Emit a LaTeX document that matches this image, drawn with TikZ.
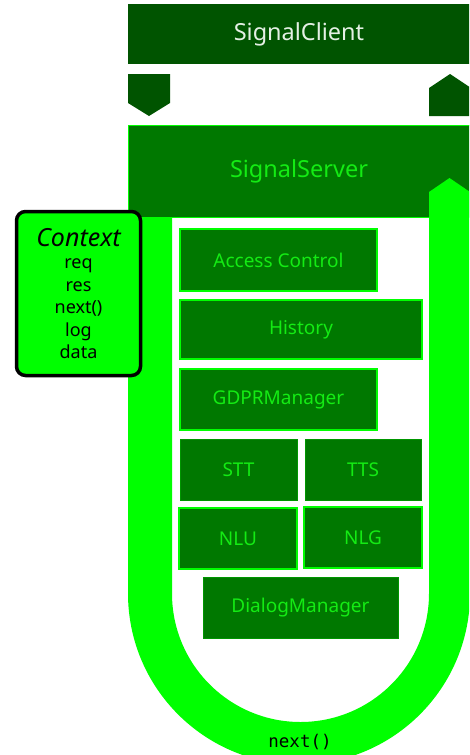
\documentclass[tikz,border=0pt]{standalone}
\usepackage{fontspec}
\setmainfont{Noto Sans}
\newfontfamily\codefont{DejaVu Sans Mono}
\usetikzlibrary{positioning}
\definecolor{clientgreen}{RGB}{0,84,0}
\definecolor{servergreen}{RGB}{0,120,0}
\definecolor{neongreen}{RGB}{0,255,0}
\definecolor{labelgreen}{RGB}{20,235,20}
\definecolor{edgegreen}{RGB}{0,150,0}
\definecolor{clienttext}{RGB}{228,240,228}
\tikzset{
    module/.style={fill=servergreen, draw=neongreen, line width=1.6pt, text=labelgreen,
        inner sep=0pt, outer sep=0pt, minimum height=61pt, font=\fontsize{19}{22}\selectfont},
    plainmodule/.style={module, draw=edgegreen, line width=0.8pt},
    tip/.style={fill=clientgreen}
}
\begin{document}
\begin{tikzpicture}[x=1pt,y=1pt]
    \clip (0,0) rectangle (469,-755);
    \fill[white] (0,0) rectangle (469,-755);
    \node[fill=clientgreen, minimum width=342pt, minimum height=60pt, inner sep=0pt,
        text=clienttext, font=\fontsize{23.5}{28}\selectfont] (client) at (299,-34) {SignalClient};
    \path[tip] (128,-74) -- (170,-74) -- (170,-103) -- (149,-116) -- (128,-103) -- cycle;
    \path[tip] (429,-116) -- (429,-88) -- (450,-74) -- (471,-88) -- (471,-116) -- cycle;
    \node[fill=servergreen, draw=neongreen, line width=1pt, minimum width=342pt, minimum height=92pt,
        inner sep=0pt, text=labelgreen, font=\fontsize{23.5}{28}\selectfont] (server) at (299,-171) {SignalServer};
    \path[fill=neongreen] (128,-217) -- (128,-593.5) arc[start angle=180, end angle=360, radius=171]
        -- (470,-192) -- (449.5,-178) -- (429,-192) -- (429,-593.5)
        arc[start angle=0, end angle=-180, radius=128.5] -- (172,-217) -- cycle;
    \node[fill=neongreen, draw=black, line width=3.5pt, rounded corners=9pt, minimum width=124pt,
        minimum height=164pt, align=center, font=\fontsize{18}{22.5}\selectfont] (context) at (78.5,-293.5)
        {{\fontsize{25}{27}\selectfont\itshape Context}\\req\\res\\next()\\log\\data};
    \node[module, minimum width=197pt, minimum height=62pt] (access) at (278.5,-260) {Access Control};
    \node[module, minimum width=242pt, minimum height=59pt, below right=9pt and 0pt of access.south west] (history) {History};
    \node[module, minimum width=197pt, below right=10pt and 0pt of history.south west] (gdpr) {GDPRManager};
    \node[plainmodule, minimum width=117pt, below right=9pt and 0pt of gdpr.south west] (stt) {STT};
    \node[plainmodule, minimum width=116pt, right=8pt of stt] (tts) {TTS};
    \node[module, minimum width=118pt, below right=8pt and -1pt of stt.south west] (nlu) {NLU};
    \node[module, minimum width=118pt, above right=-61pt and 7pt of nlu.north east, yshift=1pt] (nlg) {NLG};
    \node[plainmodule, minimum width=195pt] (dialog) at (300.5,-607.5) {DialogManager};
    \node[font=\codefont\fontsize{17.5}{20}\selectfont] (next) at (300,-742) {next()};
\end{tikzpicture}
\end{document}
